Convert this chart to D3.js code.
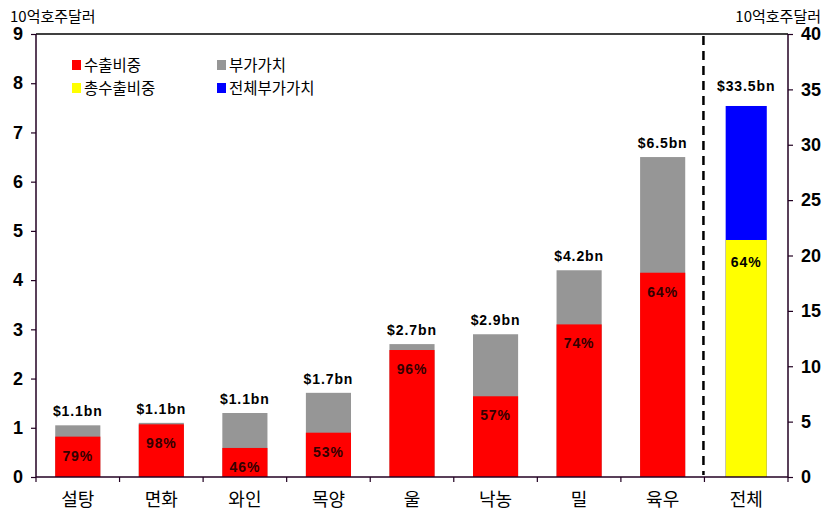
<!DOCTYPE html>
<html><head><meta charset="utf-8">
<script src="https://cdn.jsdelivr.net/npm/d3@7"></script>
<style>
body{margin:0;background:#fff;}
svg text{font-family:"Liberation Sans",Arial,sans-serif;}
.kr{font-family:"Noto Sans CJK KR","Noto Sans",sans-serif;}
</style></head>
<body><svg id="c" width="832" height="525"></svg>
<script>
const categories = ["설탕","면화","와인","목양","울","낙농","밀","육우","전체"];
const exportShare = [0.82, 1.07, 0.59, 0.90, 2.58, 1.64, 3.10, 4.15];
const valueAdded = [1.05, 1.10, 1.30, 1.71, 2.70, 2.90, 4.20, 6.50];
const totalLabels = ["$1.1bn","$1.1bn","$1.1bn","$1.7bn","$2.7bn","$2.9bn","$4.2bn","$6.5bn"];
const pctLabels = ["79%","98%","46%","53%","96%","57%","74%","64%"];
const overallExport = 21.4;
const overallTotal = 33.5;
const overallLabel = "$33.5bn";
const overallPct = "64%";
const leftTicks = [0,1,2,3,4,5,6,7,8,9];
const rightTicks = [0,5,10,15,20,25,30,35,40];
const legendItems = [["수출비중","#ff0000"],["부가가치","#969696"],["총수출비중","#ffff00"],["전체부가가치","#0000ff"]];

const svg = d3.select("#c");
const L = 36, R = 788, T = 34, B = 477;
const x = d3.scaleBand().domain(categories).range([L, R]).paddingInner(0.46).paddingOuter(0.23);
const xb = d3.scaleBand().domain(categories).range([L, R]);
const yL = d3.scaleLinear().domain([0, 9]).range([B, T]);
const yR = d3.scaleLinear().domain([0, 40]).range([B, T]);

const lblFont = 14, lblSp = 0.9;
const g = svg.append("g");
categories.slice(0, 8).forEach((c, i) => {
  g.append("rect").attr("x", x(c)).attr("width", x.bandwidth())
    .attr("y", yL(valueAdded[i])).attr("height", yL(0) - yL(valueAdded[i])).attr("fill", "#969696");
  g.append("rect").attr("x", x(c)).attr("width", x.bandwidth())
    .attr("y", yL(exportShare[i])).attr("height", yL(0) - yL(exportShare[i])).attr("fill", "#ff0000");
  g.append("text").attr("x", x(c) + x.bandwidth()/2).attr("y", yL(valueAdded[i]) - 9)
    .attr("text-anchor", "middle").attr("font-weight", "bold").attr("font-size", lblFont)
    .attr("letter-spacing", lblSp).text(totalLabels[i]);
  g.append("text").attr("x", x(c) + x.bandwidth()/2).attr("y", yL(exportShare[i]) + 24)
    .attr("text-anchor", "middle").attr("font-weight", "bold").attr("font-size", lblFont)
    .attr("letter-spacing", lblSp).attr("fill", "#330000").text(pctLabels[i]);
});
const oc = categories[8];
const ow = x.bandwidth() - 4;
const ox = x(oc) + 2;
g.append("rect").attr("x", ox).attr("width", ow).attr("y", yR(overallTotal))
  .attr("height", yR(0) - yR(overallTotal)).attr("fill", "#0000ff");
g.append("rect").attr("x", ox).attr("width", ow).attr("y", yR(overallExport))
  .attr("height", yR(0) - yR(overallExport)).attr("fill", "#ffff00");
g.append("text").attr("x", ox + ow/2).attr("y", yR(overallTotal) - 15)
  .attr("text-anchor", "middle").attr("font-weight", "bold").attr("font-size", lblFont)
  .attr("letter-spacing", lblSp).text(overallLabel);
g.append("text").attr("x", ox + ow/2).attr("y", yR(overallExport) + 27)
  .attr("text-anchor", "middle").attr("font-weight", "bold").attr("font-size", lblFont)
  .attr("letter-spacing", lblSp).text(overallPct);

svg.append("line").attr("x1", xb(oc) - 1).attr("x2", xb(oc) - 1).attr("y1", T + 2).attr("y2", B - 2)
  .attr("stroke", "#000").attr("stroke-width", 2.5).attr("stroke-dasharray", "9,6");

svg.append("line").attr("x1", L).attr("x2", R).attr("y1", T).attr("y2", T).attr("stroke", "#000").attr("stroke-width", 1.5);

const axL = svg.append("g").attr("transform", `translate(${L},0)`)
  .call(d3.axisLeft(yL).tickValues(leftTicks).tickSize(5).tickPadding(8).tickFormat(d3.format("d")));
const axR = svg.append("g").attr("transform", `translate(${R},0)`)
  .call(d3.axisRight(yR).tickValues(rightTicks).tickSize(5).tickPadding(8).tickFormat(d3.format("d")));
[axL, axR].forEach(a => {
  a.select(".domain").attr("stroke", "#220022").attr("stroke-width", 1.5).attr("d", `M0,${T}V${B}`);
  a.selectAll(".tick line").attr("stroke", "#220022").attr("stroke-width", 1.2);
  a.selectAll("text").attr("font-family", "Liberation Sans, Arial").attr("font-weight", "bold")
    .attr("font-size", 18).attr("fill", "#000");
});
const axB = svg.append("g").attr("transform", `translate(0,${B})`)
  .call(d3.axisBottom(xb).tickSize(0).tickPadding(16));
axB.select(".domain").attr("stroke", "#220022").attr("stroke-width", 1.5).attr("d", `M${L},0H${R}`);
axB.selectAll("text").attr("class", "kr").attr("font-size", 18).attr("fill", "#000");
const bounds = categories.map(c => xb(c)).concat([R]);
axB.selectAll(".bt").data(bounds).enter().append("line").attr("class", "bt")
  .attr("x1", d => d).attr("x2", d => d).attr("y1", 0).attr("y2", 5)
  .attr("stroke", "#220022").attr("stroke-width", 1.2);

svg.append("text").attr("class", "kr").attr("x", 10).attr("y", 22).attr("font-size", 15).text("10억호주달러");
svg.append("text").attr("class", "kr").attr("x", 821).attr("y", 22).attr("text-anchor", "end").attr("font-size", 15).text("10억호주달러");

const lg = svg.append("g");
legendItems.forEach((d, i) => {
  const col = i % 2, row = Math.floor(i / 2);
  const lx = 72 + col * 145, ly = 65 + row * 23;
  lg.append("rect").attr("x", lx).attr("y", ly - 5).attr("width", 9).attr("height", 10).attr("fill", d[1]);
  lg.append("text").attr("class", "kr").attr("x", lx + 12).attr("y", ly + 6).attr("font-size", 15.5).text(d[0]);
});
</script></body></html>
